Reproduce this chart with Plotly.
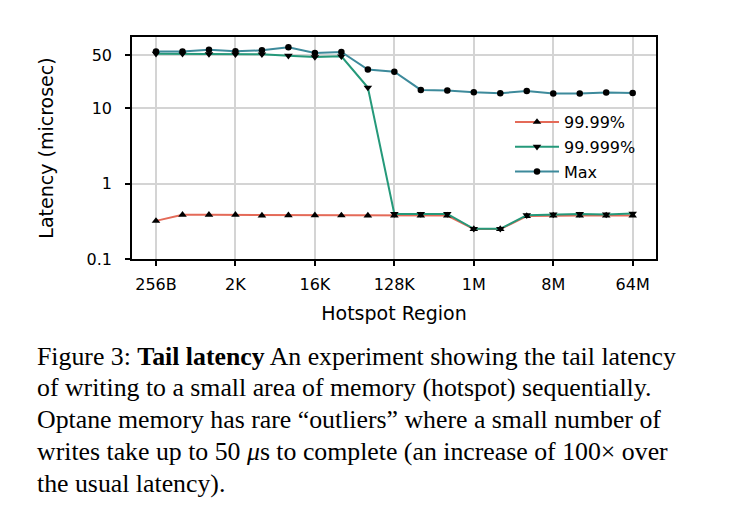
import math
import plotly.graph_objects as go

sizes_bytes = [2 ** k for k in range(8, 27)]  # 256B .. 64M
tick_vals = [256, 2048, 16384, 131072, 1048576, 8388608, 67108864]
tick_text = ["256B", "2K", "16K", "128K", "1M", "8M", "64M"]

p9999 = [0.32, 0.385, 0.385, 0.385, 0.377, 0.38, 0.38, 0.378, 0.377, 0.377,
         0.377, 0.377, 0.249, 0.249, 0.37, 0.377, 0.377, 0.377, 0.377]
p99999 = [52.6, 52.6, 52.0, 51.5, 51.5, 49.5, 47.5, 48.5, 18.7, 0.396,
          0.396, 0.396, 0.251, 0.251, 0.381, 0.39, 0.396, 0.39, 0.40]
pmax = [56.0, 56.0, 59.4, 56.5, 58.2, 63.8, 53.6, 55.5, 32.4, 30.4,
        17.4, 17.1, 16.2, 15.7, 16.9, 15.6, 15.6, 16.1, 15.9]

y_ticks = [0.1, 1, 10, 50]
y_tick_text = ["0.1", "1", "10", "50"]

caption_lines = [
    "Figure 3: <b>Tail latency</b> An experiment showing the tail latency",
    "of writing to a small area of memory (hotspot) sequentially.",
    "Optane memory has rare \u201coutliers\u201d where a small number of",
    "writes take up to 50 <i>\u03bc</i>s to complete (an increase of 100\u00d7 over",
    "the usual latency).",
]

RED = "#e46a58"
GREEN = "#25997a"
TEAL = "#3d8a9b"

fig = go.Figure()
series = [
    ("99.99%", p9999, RED, "triangle-up"),
    ("99.999%", p99999, GREEN, "triangle-down"),
    ("Max", pmax, TEAL, "circle"),
]
for name, ys, col, sym in series:
    fig.add_trace(go.Scatter(
        x=sizes_bytes, y=ys, name=name, mode="lines+markers",
        legendgroup=name,
        line=dict(color=col, width=2),
        marker=dict(symbol=sym, color="black", size=7.5 if sym != "circle" else 6.5),
    ))

OFF = 8  # page body margin
L, T, W, H = 132 - OFF, 37 - OFF, 524, 222
fig_w, fig_h = 750, 520

def px_x(x):
    return (x - OFF - L) / W

def px_y(y):
    return (T + H - (y - OFF)) / H

for i, line in enumerate(caption_lines):
    fig.add_annotation(
        x=px_x(35), y=px_y(356 + i * 31.8), xref="paper", yref="paper",
        xanchor="left", yanchor="middle", showarrow=False, align="left",
        text=line, font=dict(family="Liberation Serif", size=25.8, color="black"),
    )

lg2 = math.log10(2)
fig.update_layout(
    width=fig_w, height=fig_h,
    margin=dict(l=L, r=fig_w - L - W, t=T, b=fig_h - T - H),
    paper_bgcolor="white", plot_bgcolor="white",
    font=dict(family="DejaVu Sans", size=16, color="black"),
    showlegend=True,
    legend=dict(x=px_x(510), y=px_y(105), xanchor="left", yanchor="top",
                bgcolor="rgba(0,0,0,0)", font=dict(size=16),
                tracegroupgap=1, itemwidth=44),
    xaxis=dict(
        type="log",
        range=[math.log10(256) - 0.906 * lg2, math.log10(2 ** 26) + 0.88 * lg2],
        tickvals=tick_vals, ticktext=tick_text,
        showgrid=True, gridcolor="#d4d4d4", gridwidth=1.6,
        showline=True, linecolor="black", linewidth=1.6, mirror=True,
        ticks="outside", ticklen=5, tickwidth=1.6, tickcolor="black",
        ticklabelstandoff=5,
        title=dict(text="Hotspot Region", standoff=14),
        zeroline=False,
    ),
    yaxis=dict(
        type="log", range=[-1, 1.942],
        tickvals=y_ticks, ticktext=y_tick_text,
        showgrid=True, gridcolor="#d4d4d4", gridwidth=1.6,
        showline=True, linecolor="black", linewidth=1.6, mirror=True,
        ticks="outside", ticklen=5, tickwidth=1.6, tickcolor="black",
        ticklabelstandoff=10,
        title=dict(text="Latency (microsec)", standoff=28),
        zeroline=False,
    ),
)

fig.write_html("out.html")
